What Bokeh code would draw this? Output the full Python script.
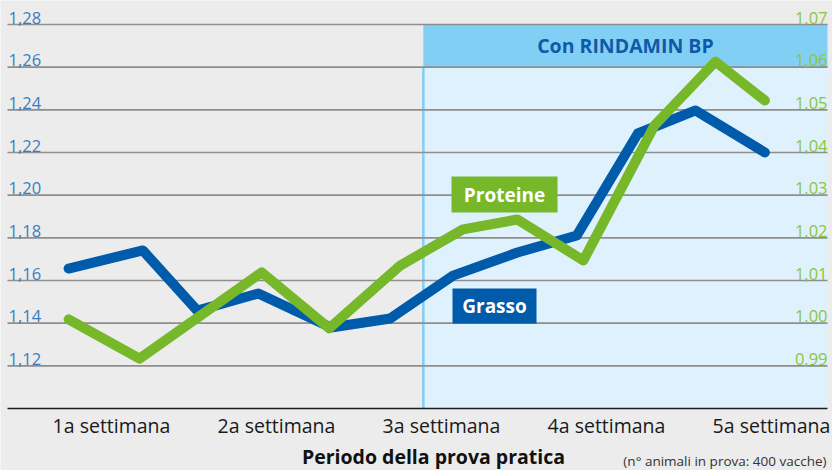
from bokeh.plotting import figure
from bokeh.models import Range1d
from bokeh.core.properties import value
from bokeh.embed import file_html
from bokeh.resources import INLINE

# ---------------- data ----------------
weeks = ["1a settimana", "2a settimana", "3a settimana", "4a settimana", "5a settimana"]
week_pos = [1, 2, 3, 4, 5]

left_ticks = [1.12, 1.14, 1.16, 1.18, 1.20, 1.22, 1.24, 1.26, 1.28]
left_labels = ["1,12", "1,14", "1,16", "1,18", "1,20", "1,22", "1,24", "1,26", "1,28"]
right_ticks = [0.99, 1.00, 1.01, 1.02, 1.03, 1.04, 1.05, 1.06, 1.07]
right_labels = ["0,99", "1,00", "1,01", "1,02", "1,03", "1,04", "1,05", "1,06", "1,07"]

grasso_x = [0.74, 1.19, 1.52, 1.89, 2.33, 2.69, 3.07, 3.46, 3.82, 4.19, 4.54, 4.96]
grasso_y = [1.1656, 1.1741, 1.1459, 1.1539, 1.1380, 1.1422, 1.1623, 1.1731, 1.1811, 1.2289, 1.2397, 1.2200]

proteine_x = [0.74, 1.17, 1.91, 2.32, 2.75, 3.13, 3.46, 3.86, 4.29, 4.66, 4.96]
proteine_y = [1.0009, 0.9917, 1.0119, 0.9988, 1.0135, 1.0220, 1.0243, 1.0147, 1.0463, 1.0613, 1.0522]

treatment_start = 2.89
treatment_label = "Con RINDAMIN BP"
x_title = "Periodo della prova pratica"
note = "(n° animali in prova: 400 vacche)"

# ---------------- layout ----------------
W, H = 832, 470
PX_W1, PX_PER_WEEK = 111, 165
LBASE, LTOP = 1.10, 1.28
RBASE, RTOP = 0.98, 1.07
PY_BASE, PY_TOP = 408, 24
lppu = (PY_BASE - PY_TOP) / (LTOP - LBASE)
rppu = (PY_BASE - PY_TOP) / (RTOP - RBASE)

x0 = 1 - PX_W1 / PX_PER_WEEK
x1 = 1 + (W - PX_W1) / PX_PER_WEEK
y0 = LBASE - (H - PY_BASE) / lppu
y1 = LBASE + PY_BASE / lppu


def X(px):
    return 1 + (px - PX_W1) / PX_PER_WEEK


def Y(py):
    return LBASE + (PY_BASE - py) / lppu


BLUE = "#005BAA"
GREEN = "#76B82A"
BG = "#ECECEC"
FONT = "Open Sans"

p = figure(width=W, height=H, x_range=Range1d(x0, x1), y_range=Range1d(y0, y1),
           output_backend="svg", toolbar_location=None, min_border=0,
           background_fill_color=BG, border_fill_color=BG, outline_line_color=None)
p.extra_y_ranges = {"right": Range1d(RBASE - (H - PY_BASE) / rppu, RBASE + PY_BASE / rppu)}
p.xaxis.visible = False
p.yaxis.visible = False
p.xgrid.visible = False
p.ygrid.visible = False

gx0, gx1 = X(7), X(827)

# treatment region
p.quad(left=[treatment_start], right=[gx1], bottom=[LBASE], top=[1.26],
       fill_color="#DEF1FC", line_color=None)
p.quad(left=[treatment_start], right=[gx1], bottom=[1.26], top=[LTOP],
       fill_color="#82CFF5", line_color=None)
p.segment(x0=[treatment_start], x1=[treatment_start], y0=[LBASE], y1=[1.26],
          line_color="#82CFF5", line_width=2.5)

# gridlines
p.segment(x0=[gx0] * len(left_ticks), x1=[gx1] * len(left_ticks), y0=left_ticks, y1=left_ticks,
          line_color="#8E8E8E", line_width=1.6)
p.segment(x0=[gx0], x1=[gx1], y0=[LBASE], y1=[LBASE], line_color="#1E1E1E", line_width=1.6)

# header text
p.text(x=[(treatment_start + gx1) / 2], y=[(1.26 + LTOP) / 2], text=[treatment_label],
       text_font=value(FONT), text_font_style="bold", text_font_size="19.5px",
       text_color="#0E5AA6", text_align="center", text_baseline="middle")

# tick labels
p.text(x=[X(8)] * len(left_ticks), y=left_ticks, text=left_labels, y_offset=-1,
       text_font=value(FONT), text_font_size="16.5px", text_color="#3A7DC1",
       text_align="left", text_baseline="bottom")
p.text(x=[X(827)] * len(right_ticks), y=right_ticks, text=right_labels, y_offset=-1,
       y_range_name="right",
       text_font=value(FONT), text_font_size="16.5px", text_color="#8CC63F",
       text_align="right", text_baseline="bottom")

# series
p.line(grasso_x, grasso_y, line_color=BLUE, line_width=10,
       line_join="round", line_cap="round")
p.line(proteine_x, proteine_y, line_color=GREEN, line_width=10,
       line_join="round", line_cap="round", y_range_name="right")

# series labels
p.quad(left=[X(451)], right=[X(557)], top=[Y(176)], bottom=[Y(212)],
       fill_color=GREEN, line_color=None)
p.text(x=[X(504)], y=[Y(194)], text=["Proteine"], text_font=value(FONT),
       text_font_style="bold", text_font_size="19px", text_color="white",
       text_align="center", text_baseline="middle")
p.quad(left=[X(452)], right=[X(536)], top=[Y(288)], bottom=[Y(323)],
       fill_color=BLUE, line_color=None)
p.text(x=[X(494)], y=[Y(305.5)], text=["Grasso"], text_font=value(FONT),
       text_font_style="bold", text_font_size="19px", text_color="white",
       text_align="center", text_baseline="middle")

# category labels
p.text(x=week_pos, y=[Y(425)] * len(weeks), text=weeks, text_font=value(FONT),
       text_font_size="19.5px", text_color="#1A1A1A",
       text_align="center", text_baseline="middle")
p.text(x=[X(433)], y=[Y(456)], text=[x_title], text_font=value(FONT),
       text_font_style="bold", text_font_size="19.5px", text_color="#111111",
       text_align="center", text_baseline="middle")
p.text(x=[X(826)], y=[Y(460)], text=[note], text_font=value(FONT),
       text_font_size="13.5px", text_color="#333333",
       text_align="right", text_baseline="middle")

open("out.html", "w").write(file_html(p, INLINE))
